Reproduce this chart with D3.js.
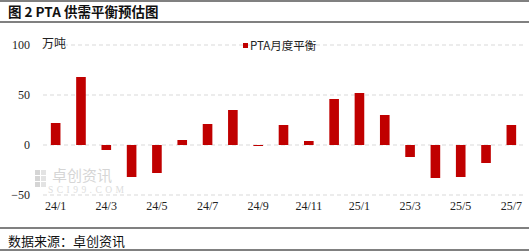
<!DOCTYPE html>
<html><head><meta charset="utf-8">
<script src="https://cdn.jsdelivr.net/npm/d3@7/dist/d3.min.js"></script>
<style>body{margin:0;background:#fff}svg{display:block}</style>
</head><body><div id="c"></div>
<script>
const categories = ["24/1","24/2","24/3","24/4","24/5","24/6","24/7","24/8","24/9","24/10","24/11","24/12","25/1","25/2","25/3","25/4","25/5","25/6","25/7"];
const values = [22, 68, -5, -32, -28, 5, 21, 35, -1, 20, 4, 46, 52, 30, -12, -33, -32, -18, 20];
const yTicks = [-50, 0, 50, 100];
const xTickLabels = ["24/1","24/3","24/5","24/7","24/9","24/11","25/1","25/3","25/5","25/7"];
const seriesName = "PTA月度平衡";
const titleText = "图 2 PTA 供需平衡预估图";
const unitText = "万吨";
const sourceText = "数据来源：卓创资讯";

const W = 530, H = 252;
const svg = d3.select("#c").append("svg").attr("width", W).attr("height", H);
const serif = "'Liberation Serif','DejaVu Serif',serif";
const cjk = "'Noto Sans CJK SC',sans-serif";

// frame lines
[1, 22, 228, 250].forEach(y => svg.append("line").attr("x1", 0).attr("x2", 529).attr("y1", y).attr("y2", y)
  .attr("stroke", "#808080").attr("stroke-width", 2));
svg.append("text").attr("x", 8).attr("y", 17).text(titleText)
  .style("font-family", cjk).attr("font-weight", "bold").attr("font-size", 13.5).attr("fill", "#111");
svg.append("text").attr("x", 8).attr("y", 246).text(sourceText)
  .style("font-family", cjk).attr("font-size", 13).attr("fill", "#111");

const x = d3.scaleBand().domain(categories).range([43, 524]).paddingInner(0.62).paddingOuter(0.31);
const y = d3.scaleLinear().domain([-50, 100]).range([195, 45]);

// watermark
const wm = svg.append("g").attr("opacity", 0.4);
[[35,170],[41,170],[35,176],[41,176],[35,182],[41,182]].forEach(([a,b],i)=>
  wm.append("rect").attr("x",a).attr("y",b).attr("width",5).attr("height",5).attr("fill", i%2? "#bbb":"#999"));
wm.append("text").attr("x", 52).attr("y", 181).text("卓创资讯").style("font-family", cjk)
  .attr("font-size", 15).attr("fill", "#999");
wm.append("text").attr("x", 48).attr("y", 193).text("SCI99.COM").style("font-family", serif)
  .attr("font-size", 9.5).attr("fill", "#aaa").attr("textLength", 76);

// grid
svg.append("g").selectAll("line").data(yTicks).join("line")
  .attr("x1", 43).attr("x2", 524).attr("y1", d => y(d)).attr("y2", d => y(d))
  .attr("stroke", "#d9d9d9").attr("stroke-dasharray", "4,3").attr("stroke-width", 1);

// y axis labels
const yAxis = d3.axisLeft(y).tickValues(yTicks).tickSize(0).tickPadding(0);
const yg = svg.append("g").attr("transform", "translate(30,0)").call(yAxis);
yg.attr("font-family", null);
yg.select(".domain").remove();
yg.selectAll("text").style("font-family", serif).style("font-size", "12px").attr("fill", "#222");

svg.append("text").attr("x", 42).attr("y", 48).text(unitText)
  .style("font-family", cjk).attr("font-size", 12).attr("fill", "#222");

// bars
svg.append("g").selectAll("rect").data(values).join("rect")
  .attr("x", (d, i) => x(categories[i])).attr("width", x.bandwidth())
  .attr("y", d => y(Math.max(0, d))).attr("height", d => Math.abs(y(d) - y(0)))
  .attr("fill", "#c00000");

// x axis labels
const xAxis = d3.axisBottom(x).tickValues(xTickLabels).tickSize(0).tickPadding(0);
const xg = svg.append("g").attr("transform", "translate(0,201)").call(xAxis);
xg.attr("font-family", null);
xg.select(".domain").remove();
xg.selectAll("text").style("font-family", serif).style("font-size", "12px").attr("fill", "#222").attr("dy", "0.71em");

// legend
svg.append("rect").attr("x", 243).attr("y", 43).attr("width", 5).attr("height", 5).attr("fill", "#c00000");
svg.append("text").attr("x", 250).attr("y", 50).text(seriesName)
  .style("font-family", cjk).attr("font-size", 11.5).attr("fill", "#222");
</script></body></html>
